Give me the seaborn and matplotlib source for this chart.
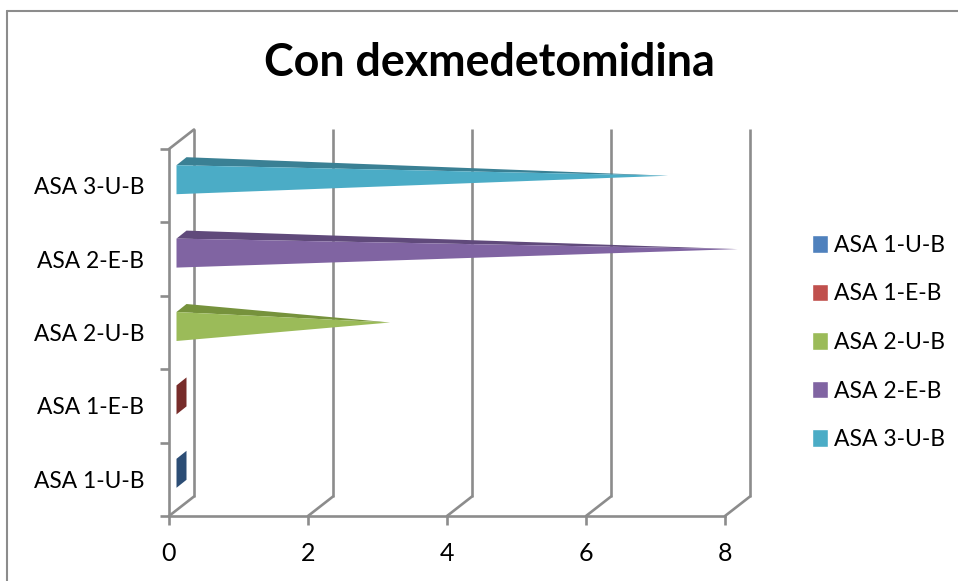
# cone style horizontal bars, drawn from the seaborn bar positions

import matplotlib
matplotlib.use('Agg')
import matplotlib.pyplot as plt
from matplotlib.lines import Line2D
import pandas as pd
import seaborn as sns

categories = ['ASA 1-U-B', 'ASA 1-E-B', 'ASA 2-U-B', 'ASA 2-E-B', 'ASA 3-U-B']
values = [0, 0, 3, 8, 7]
x_ticks = [0, 2, 4, 6, 8]
colors = ['#4F81BD', '#C0504D', '#9BBB59', '#8064A2', '#4BACC6']
dark_colors = ['#2C4D75', '#772C2A', '#76923C', '#604A7B', '#3A8094']
GREY = '#8C8C8C'
LW = 1.9

sns.set_theme(style='white')
plt.rcParams['font.family'] = ['Lato', 'DejaVu Sans']

fig = plt.figure(figsize=(9.58, 5.81), dpi=100, facecolor='white')
ax = fig.add_axes([169 / 958, 1 - 516 / 581, (725 - 169) / 958, (516 - 149) / 581])

df = pd.DataFrame({'group': categories, 'n': values})
sns.barplot(data=df, y='group', x='n', hue='group', order=categories, hue_order=categories,
            palette=colors, saturation=1, width=0.395, dodge=False, legend='full', ax=ax)
ax.set_xlim(0, 8)
ax.set_ylim(-0.5, 4.5)
ax.set_xlabel('')
ax.set_ylabel('')
ax.set_facecolor('none')

# depth of the fake 3d box, in data units
wall_dx, wall_dy = 25 / 69.5, 19.5 / 73.4
base_dx = 7.5 / 69.5
back_dx, back_dy = 10 / 69.5, 8 / 73.4
lift = 6 / 73.4

# back wall and floor
for t in x_ticks:
    ax.plot([t + wall_dx, t + wall_dx], [-0.5 + wall_dy, 4.5 + wall_dy], color=GREY, lw=LW,
            clip_on=False, zorder=1, solid_capstyle='butt')
    ax.plot([t, t + wall_dx], [-0.5, -0.5 + wall_dy], color=GREY, lw=LW, clip_on=False, zorder=1)
ax.plot([0, wall_dx], [4.5, 4.5 + wall_dy], color=GREY, lw=LW, clip_on=False, zorder=1)

# turn each bar into a cone
bars = [p for p in ax.patches if p.get_height() > 0]
bars = sorted(bars, key=lambda p: p.get_y())
for bar, col, dark in zip(bars, colors, dark_colors):
    bar.set_visible(False)
    val = bar.get_width()
    mid = bar.get_y() + bar.get_height() / 2 + lift
    half = bar.get_height() / 2
    x0 = base_dx
    if val == 0:
        ax.fill([x0, x0, x0 + back_dx, x0 + back_dx],
                [mid - half, mid + half, mid + half + back_dy, mid - half + back_dy],
                color=dark, lw=0, zorder=3, clip_on=False)
    else:
        tip_x = val + x0 + back_dx / 2
        tip_y = mid + back_dy / 2
        ax.fill([x0, x0 + back_dx, tip_x], [mid + half, mid + half + back_dy, tip_y],
                color=dark, lw=0, zorder=3, clip_on=False)
        ax.fill([x0, x0, tip_x], [mid - half, mid + half, tip_y], color=col, lw=0, zorder=4,
                clip_on=False)

# axes
for side in ['top', 'right']:
    ax.spines[side].set_visible(False)
for side in ['left', 'bottom']:
    ax.spines[side].set_color(GREY)
    ax.spines[side].set_linewidth(LW)
    ax.spines[side].set_zorder(2)
ax.set_xticks(x_ticks)
ax.set_xticklabels([str(t) for t in x_ticks])
ax.set_yticks([i - 0.5 for i in range(len(categories) + 1)])
ax.set_yticklabels([])
ax.set_yticks(range(len(categories)), minor=True)
ax.set_yticklabels(categories, minor=True)
ax.tick_params(axis='both', which='major', length=6.5, width=LW, color=GREY, bottom=True, left=True)
ax.tick_params(axis='x', labelsize=18, pad=12, labelcolor='black')
ax.tick_params(axis='y', which='minor', length=0, labelsize=16.4, pad=18, labelcolor='black')

sns.move_legend(ax, 'center left', bbox_to_anchor=(801 / 958, 1 - 342.5 / 581),
                bbox_transform=fig.transFigure, frameon=False, title=None, fontsize=16.5,
                labelspacing=1.2, handlelength=0.66, handleheight=0.8, handletextpad=0.28,
                borderpad=0, labelcolor='black')

fig.text(489 / 958, 1 - 63 / 581, 'Con dexmedetomidina', fontsize=32.3, fontweight='bold',
         color='black', ha='center', va='center')

# chart frame, only top and left are in the picture
fig.add_artist(Line2D([6.5 / 958, 6.5 / 958], [0, 1 - 11 / 581], color=GREY, lw=1.5))
fig.add_artist(Line2D([6.5 / 958, 1], [1 - 11 / 581, 1 - 11 / 581], color=GREY, lw=1.5))

fig.savefig('out.png', dpi=100)
